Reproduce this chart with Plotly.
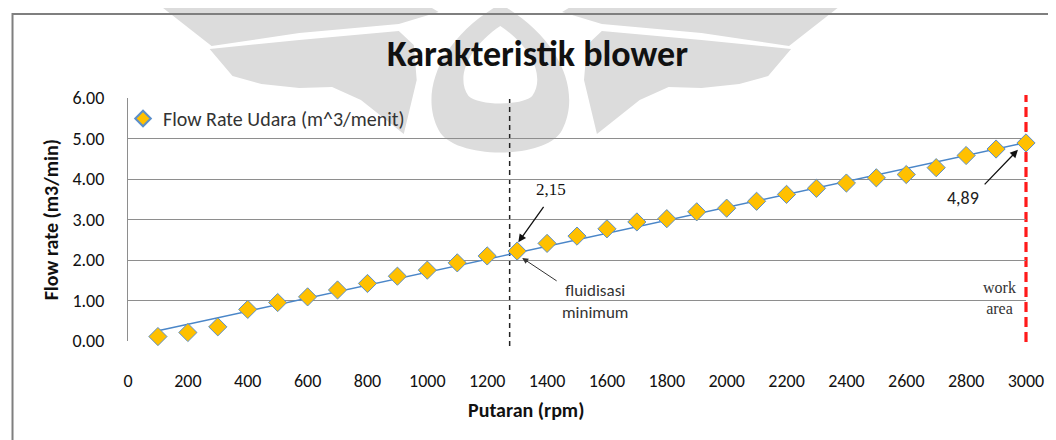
import numpy as np
import plotly.graph_objects as go

rpm = [100, 200, 300, 400, 500, 600, 700, 800, 900, 1000, 1100, 1200, 1300, 1400, 1500,
       1600, 1700, 1800, 1900, 2000, 2100, 2200, 2300, 2400, 2500, 2600, 2700, 2800, 2900, 3000]
flow = [0.11, 0.21, 0.35, 0.78, 0.95, 1.09, 1.26, 1.42, 1.60, 1.75, 1.93, 2.10, 2.22, 2.41, 2.59,
        2.77, 2.94, 3.02, 3.19, 3.28, 3.45, 3.62, 3.77, 3.90, 4.03, 4.11, 4.28, 4.58, 4.74, 4.89]
y_ticks = [0, 1, 2, 3, 4, 5, 6]
x_ticks = list(range(0, 3001, 200))
min_fluid_rpm = 1275
work_rpm = 3000
x_max = 3000

slope, intercept = np.polyfit(rpm, flow, 1)
trend_x = [rpm[0], rpm[-1]]
trend_y = [slope * v + intercept for v in trend_x]

FONT = "Carlito, Lato"
# page pixel -> paper (plot area spans page x 128..1030, y 98..341)
def px(x):
    return (x - 128) / 902
def py(y):
    return (341 - y) / 243
def path(points, mirror=None):
    pts = points if mirror is None else [(2 * mirror - x, y) for x, y in points]
    s = "M " + " L ".join(f"{px(x):.4f},{py(y):.4f}" for x, y in pts) + " Z"
    return s

fig = go.Figure()
fig.add_trace(go.Scatter(x=trend_x, y=trend_y, mode="lines",
                         line=dict(color="#4A86C8", width=1.5), showlegend=False,
                         hoverinfo="skip"))
fig.add_trace(go.Scatter(x=rpm, y=flow, mode="markers", name="Flow Rate Udara (m^3/menit)",
                         marker=dict(symbol="diamond", size=14, color="#FFC000",
                                     line=dict(color="#5B8FCB", width=1)),
                         cliponaxis=False))

# watermark (light grey emblem behind the chart)
WM = "#DCDCDC"
cx = 502
band = [(153, 0), (420, 0), (440, 12), (400, 24), (300, 33), (212, 46)]
wing = [(210, 49), (300, 40), (400, 31), (415, 45), (418, 80), (405, 134), (362, 100),
        (333, 87), (300, 88), (262, 84), (233, 76)]
for mir in (None, cx):
    fig.add_shape(type="path", path=path(band, mir), xref="paper", yref="paper",
                  fillcolor=WM, line=dict(width=0), layer="below")
    fig.add_shape(type="path", path=path(wing, mir), xref="paper", yref="paper",
                  fillcolor=WM, line=dict(width=0), layer="below")

def curve(x, y):
    return f"{px(x):.4f},{py(y):.4f}"
ring = (f"M {curve(cx, 4)} C {curve(442, 38)} {curve(420, 92)} {curve(440, 130)} "
        f"C {curve(455, 160)} {curve(549, 160)} {curve(564, 130)} "
        f"C {curve(584, 92)} {curve(562, 38)} {curve(cx, 4)} Z "
        f"M {curve(cx, 26)} C {curve(472, 46)} {curve(456, 76)} {curve(470, 96)} "
        f"C {curve(480, 106)} {curve(524, 106)} {curve(534, 96)} "
        f"C {curve(548, 76)} {curve(532, 46)} {curve(cx, 26)} Z")
fig.add_shape(type="path", path=ring, xref="paper", yref="paper", fillrule="evenodd",
              fillcolor=WM, line=dict(width=0), layer="below")

# outer chart border
fig.add_shape(type="rect", xref="paper", yref="paper",
              x0=px(12), x1=px(1070), y0=py(460), y1=py(14),
              line=dict(color="#7F7F7F", width=2), layer="below")

# vertical marker lines (behind the markers)
fig.add_shape(type="line", x0=min_fluid_rpm, x1=min_fluid_rpm, y0=py(346), y1=py(99),
              xref="x", yref="paper", layer="below",
              line=dict(color="#222222", width=1.5, dash="5px,4px"))
wx = work_rpm / x_max
fig.add_shape(type="line", x0=wx, x1=wx, y0=py(342), y1=py(95),
              xref="paper", yref="paper", layer="below",
              line=dict(color="#FF1A1A", width=3.2, dash="10px,5px"))

ann = []
ann.append(dict(x=1304, y=2.44, ax=1392, ay=3.35, xref="x", yref="y", axref="x", ayref="y",
                text="", showarrow=True, arrowhead=2, arrowsize=1.2, arrowwidth=1.3,
                arrowcolor="#111111"))
ann.append(dict(x=1317, y=2.05, ax=1437, ay=1.46, xref="x", yref="y", axref="x", ayref="y",
                text="", showarrow=True, arrowhead=2, arrowsize=1.2, arrowwidth=1,
                arrowcolor="#333333"))
ann.append(dict(x=2973, y=4.72, ax=2857, ay=3.83, xref="x", yref="y", axref="x", ayref="y",
                text="", showarrow=True, arrowhead=2, arrowsize=1.2, arrowwidth=1.3,
                arrowcolor="#111111"))
ann.append(dict(x=1413, y=3.73, xref="x", yref="y", text="2,15", showarrow=False,
                font=dict(family="Liberation Serif", size=17, color="#111111")))
ann.append(dict(x=1560, y=0.98, xref="x", yref="y", text="fluidisasi<br>minimum", showarrow=False,
                font=dict(family=FONT, size=17, color="#333333"), align="center"))
ann.append(dict(x=2790, y=3.53, xref="x", yref="y", text="4,89", showarrow=False,
                font=dict(family=FONT, size=18, color="#222222")))
ann.append(dict(x=2912, y=1.07, xref="x", yref="y", text="work<br>area", showarrow=False,
                font=dict(family="Liberation Serif", size=16, color="#333333"), align="center"))
ann.append(dict(x=px(51), y=py(220), xref="paper", yref="paper", text="Flow rate (m3/min)",
                xanchor="center", yanchor="middle", textangle=-90, showarrow=False,
                font=dict(family=FONT, size=20, color="#111111", weight="bold")))
ann.append(dict(x=px(528), y=py(410), xref="paper", yref="paper", text="Putaran (rpm)",
                xanchor="center", yanchor="middle", showarrow=False,
                font=dict(family=FONT, size=20, color="#111111", weight="bold")))
ann.append(dict(x=px(539), y=py(54), xref="paper", yref="paper", text="Karakteristik blower",
                xanchor="center", yanchor="middle", showarrow=False,
                font=dict(family=FONT, size=36, color="#111111", weight="bold")))

# the page body adds an 8px offset, so the figure is 8px smaller and margins shifted
fig.update_layout(
    width=1048, height=432,
    margin=dict(l=120, r=26, t=90, b=99),
    paper_bgcolor="white", plot_bgcolor="rgba(0,0,0,0)",
    font=dict(family=FONT, size=18, color="#111111"),
    annotations=ann,
    legend=dict(x=px(123), y=0.996, xanchor="left", yanchor="top", bgcolor="rgba(0,0,0,0)",
                itemsizing="constant",
                font=dict(family=FONT, size=20, color="#333333")),
    xaxis=dict(range=[0, x_max], tickvals=x_ticks, ticktext=[str(v) for v in x_ticks],
               showgrid=False, zeroline=False, showline=False, ticks="", ticklen=0,
               ticklabelstandoff=27),
    yaxis=dict(range=[0, 6], tickvals=y_ticks, ticktext=[f"{v:.2f}" for v in y_ticks],
               showgrid=True, gridcolor="#8E8E8E", gridwidth=1.2, zeroline=False,
               showline=True, linecolor="#8E8E8E", linewidth=1.2, ticks="", ticklen=0,
               ticklabelstandoff=19),
)
fig.write_html("out.html")
